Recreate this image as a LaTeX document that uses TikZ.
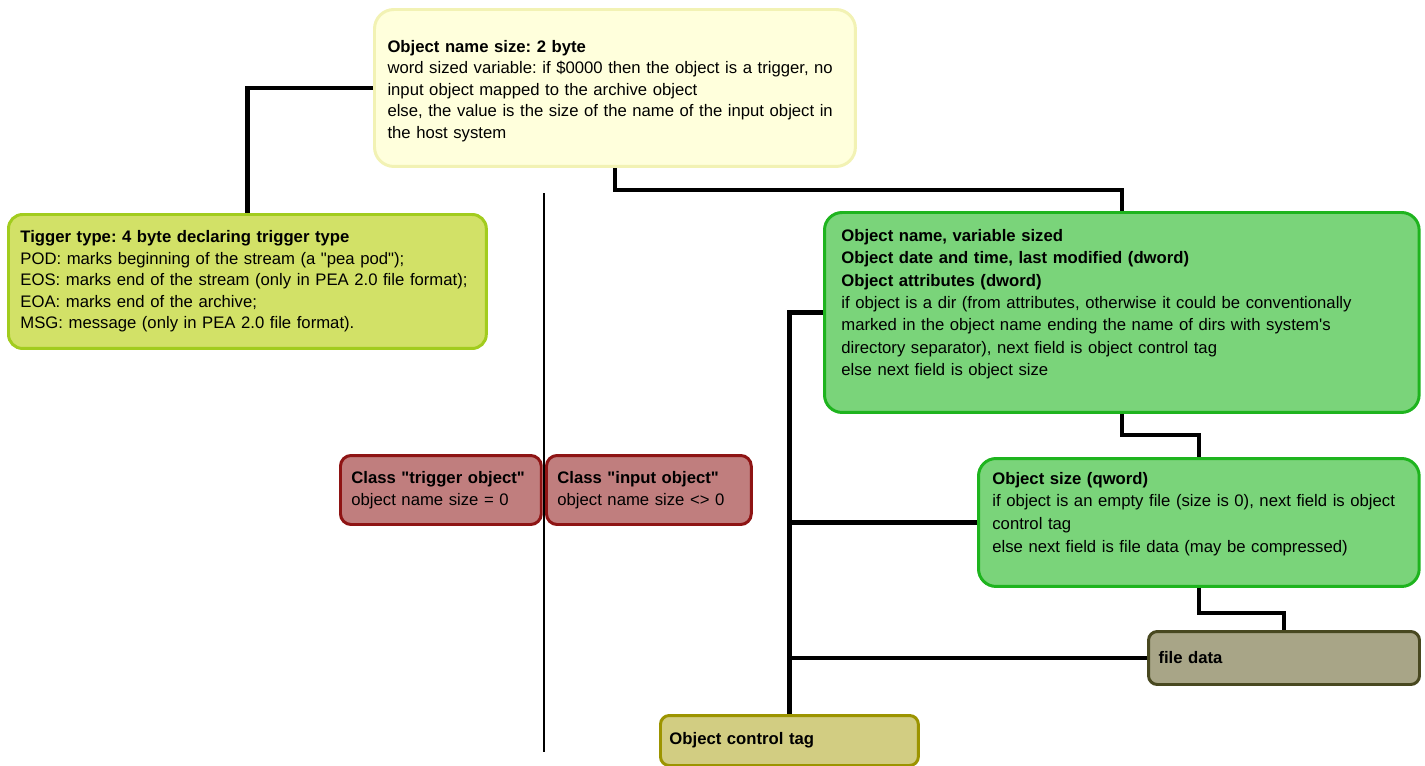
\documentclass[tikz,border=0pt]{standalone}
\usepackage{fontspec}
\setmainfont{Liberation Sans}[Ligatures=TeXOff]
\usetikzlibrary{calc}
\frenchspacing

\definecolor{topfill}{HTML}{FFFFDC}
\definecolor{topline}{HTML}{F2F2B4}
\definecolor{trigfill}{HTML}{D2E167}
\definecolor{trigline}{HTML}{A2CC1E}
\definecolor{clsfill}{HTML}{C07E7E}
\definecolor{clsline}{HTML}{8E1414}
\definecolor{objfill}{HTML}{7AD47A}
\definecolor{objline}{HTML}{1EB41E}
\definecolor{datafill}{HTML}{A8A587}
\definecolor{dataline}{HTML}{484820}
\definecolor{ctrlfill}{HTML}{D2CD82}
\definecolor{ctrlline}{HTML}{9C9400}

\tikzset{
  fieldbox/.style={draw, line width=1.7pt, anchor=north west, align=left,
    inner ysep=0pt, font=\fontsize{9.5}{12.2}\selectfont},
  link/.style={line width=2.4pt},
  sepline/.style={line width=1.3pt},
}

\begin{document}
\begin{tikzpicture}[x=0.02cm,y=-0.02cm]
\useasboundingbox (0,0) rectangle (1425,765);

% header and trigger fields
\node[fieldbox, fill=topfill, draw=topline, rounded corners=11pt, inner xsep=7.4pt,
  text width=9.1cm, minimum height=3.14cm, text depth=47.4pt] (top) at (373,8)
  {\textbf{Object name size: 2 byte}\\
   word sized variable: if \$0000 then the object is a trigger, no\\
   input object mapped to the archive object\\
   else, the value is the size of the name of the input object in\\
   the host system};

\node[fieldbox, fill=trigfill, draw=trigline, rounded corners=8pt, inner xsep=6.8pt,
  text width=9.08cm, minimum height=2.68cm] (trig) at (7,213)
  {\textbf{Tigger type: 4 byte declaring trigger type}\\
   POD: marks beginning of the stream (a "pea pod");\\
   EOS: marks end of the stream (only in PEA 2.0 file format);\\
   EOA: marks end of the archive;\\
   MSG: message (only in PEA 2.0 file format).};

% classes
\node[fieldbox, fill=clsfill, draw=clsline, rounded corners=6pt, inner xsep=6.2pt,
  text width=3.58cm, minimum height=1.38cm] (clsTrig) at (339,454)
  {\textbf{Class "trigger object"}\\ object name size = 0};

\node[fieldbox, fill=clsfill, draw=clsline, rounded corners=6pt, inner xsep=6.2pt,
  text width=3.66cm, minimum height=1.38cm] (clsInput) at (545,454)
  {\textbf{Class "input object"}\\ object name size <> 0};

% input object fields
\node[fieldbox, fill=objfill, draw=objline, rounded corners=10pt, inner xsep=9.6pt,
  text width=11.22cm, minimum height=4.0cm, text depth=88pt,
  font=\fontsize{9.5}{12.75}\selectfont] (name) at (823,211)
  {\textbf{Object name, variable sized}\\
   \textbf{Object date and time, last modified (dword)}\\
   \textbf{Object attributes (dword)}\\
   if object is a dir (from attributes, otherwise it could be conventionally\\
   marked in the object name ending the name of dirs with system's\\
   directory separator), next field is object control tag\\
   else next field is object size};

\node[fieldbox, fill=objfill, draw=objline, rounded corners=10pt, inner xsep=7.9pt,
  text width=8.26cm, minimum height=2.56cm, text depth=50.6pt,
  font=\fontsize{9.5}{13}\selectfont] (size) at (977,457)
  {\textbf{Object size (qword)}\\
   if object is an empty file (size is 0), next field is object\\
   control tag\\
   else next field is file data (may be compressed)};

\node[fieldbox, fill=datafill, draw=dataline, rounded corners=5pt, inner xsep=5.7pt,
  text width=5.02cm, minimum height=1.06cm] (data) at (1147,630)
  {\textbf{file data}};

\node[fieldbox, fill=ctrlfill, draw=ctrlline, rounded corners=5pt, inner xsep=5.1pt,
  text width=4.8cm, minimum height=1.0cm] (ctrl) at (659,714)
  {\textbf{Object control tag}};

% separator between the two classes
\coordinate (sepTop) at (544,193);
\coordinate (sepBot) at (544,752);
\draw[sepline] (sepTop) -- (sepBot);

% connectors
\draw[link] (top.west) -| (trig.north);
\draw[link] (top.south) -- ++(0,22) -| (name.north);
\draw[link] (name.south) -- ++(0,21) -| (size.north);
\draw[link] (size.south) -- ++(0,25) -| (data.north);
\draw[link] (name.west) -| (ctrl.north);
\draw[link] (size.west) -- (size.west -| ctrl.north);
\draw[link] (data.west) -- (data.west -| ctrl.north);

\end{tikzpicture}
\end{document}
